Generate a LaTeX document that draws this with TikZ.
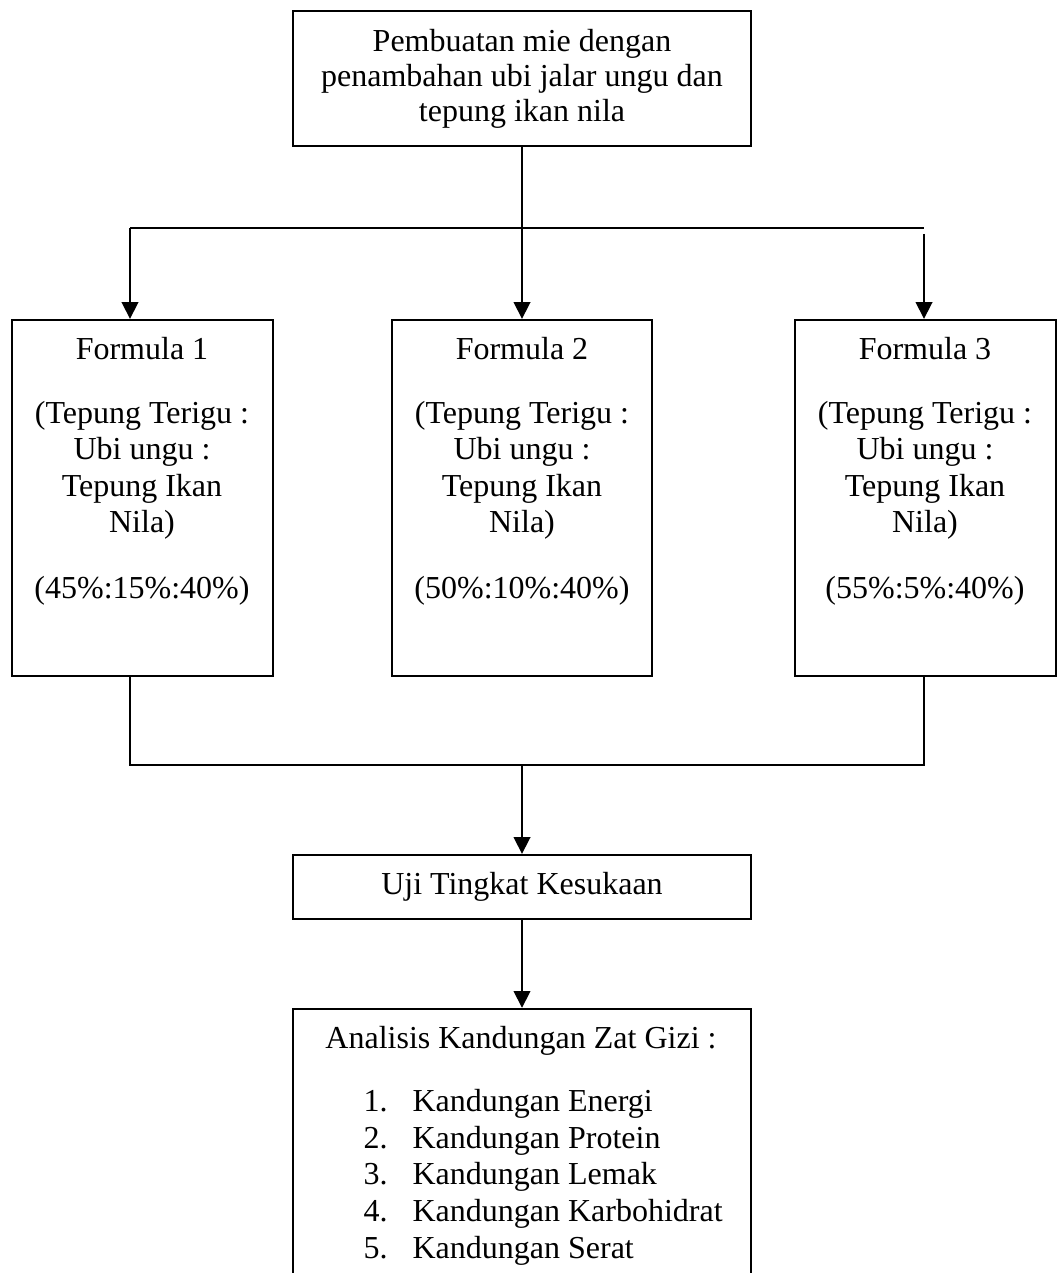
\documentclass[tikz,border=0pt]{standalone}
\usepackage{fontspec}
\setmainfont{Liberation Serif}
\usetikzlibrary{arrows.meta}
\begin{document}
\begin{tikzpicture}[x=0.375pt,y=-0.375pt,
  box/.style={draw,line width=0.85pt,inner sep=0pt},
  txt/.style={inner sep=0pt,align=center,font=\fontsize{12pt}{13.125pt}\selectfont},
  ftxt/.style={inner sep=0pt,align=center,font=\fontsize{12pt}{13.7pt}\selectfont},
  conn/.style={line width=0.9pt},
  arr/.style={line width=0.9pt,-{Triangle[length=6.3pt,width=6.2pt]}}]
\useasboundingbox (0,0) rectangle (1059,1273);
% boxes
\node[box,minimum width=171.75pt,minimum height=50.6pt] (top) at (522,78.5) {};
\node[box,minimum width=97.9pt,minimum height=133.5pt] (f1) at (142.5,498) {};
\node[box,minimum width=97.5pt,minimum height=133.5pt] (f2) at (522,498) {};
\node[box,minimum width=97.9pt,minimum height=133.5pt] (f3) at (925.5,498) {};
\node[box,minimum width=171.75pt,minimum height=24pt] (uji) at (522,887) {};
\begin{scope}
\clip (0,0) rectangle (1059,1273);
\node[box,minimum width=171.75pt,minimum height=105.4pt] (ana) at (522,1149.5) {};
\end{scope}
% texts (anchor base = baseline of the last line)
\node[txt,anchor=base] (ttop) at (522,122) {Pembuatan mie dengan\\penambahan ubi jalar ungu dan\\tepung ikan nila};
\node[ftxt,anchor=base] (t1) at (142,598) {Formula 1\\[10.3pt](Tepung Terigu :\\Ubi ungu :\\Tepung Ikan\\Nila)\\[10.7pt](45\%:15\%:40\%)};
\node[ftxt,anchor=base] (t2) at (522,598) {Formula 2\\[10.3pt](Tepung Terigu :\\Ubi ungu :\\Tepung Ikan\\Nila)\\[10.7pt](50\%:10\%:40\%)};
\node[ftxt,anchor=base] (t3) at (925,598) {Formula 3\\[10.3pt](Tepung Terigu :\\Ubi ungu :\\Tepung Ikan\\Nila)\\[10.7pt](55\%:5\%:40\%)};
\node[txt,anchor=base] (tuji) at (522,894) {Uji Tingkat Kesukaan};
\node[txt,anchor=base] (tana) at (521,1048) {Analisis Kandungan Zat Gizi :};
\node[inner sep=0pt,align=left,anchor=base west,font=\fontsize{12pt}{13.75pt}\selectfont] (tlist) at (363,1258)
  {\makebox[18.4pt][l]{1.}Kandungan Energi\\
   \makebox[18.4pt][l]{2.}Kandungan Protein\\
   \makebox[18.4pt][l]{3.}Kandungan Lemak\\
   \makebox[18.4pt][l]{4.}Kandungan Karbohidrat\\
   \makebox[18.4pt][l]{5.}Kandungan Serat};
% split connectors
\coordinate (sM) at (522,228);
\coordinate (sL) at (130,228);
\coordinate (sR) at (924,228);
\coordinate (sR2) at (924,234);
\draw[conn] (top.south) -- (sM);
\draw[conn] (sL) -- (sR);
\draw[arr] (sL) -- (sL |- f1.north);
\draw[arr] (sM) -- (f2.north);
\draw[arr] (sR2) -- (sR2 |- f3.north);
% merge connectors
\coordinate (mL) at (130,765);
\coordinate (mR) at (924,765);
\coordinate (mM) at (522,765);
\draw[conn] (mL |- f1.south) -- (mL) -- (mR) -- (mR |- f3.south);
\draw[arr] (mM) -- (uji.north);
\draw[arr] (uji.south) -- (ana.north);
\end{tikzpicture}
\end{document}
